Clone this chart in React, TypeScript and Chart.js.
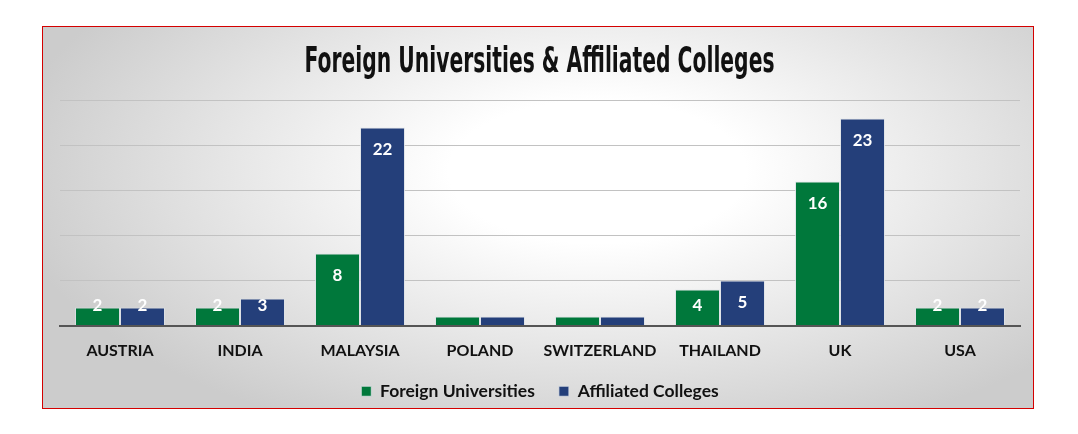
import React, { useEffect, useRef } from "react";
import { Chart, registerables } from "chart.js";

Chart.register(...registerables);

const categories = ["AUSTRIA", "INDIA", "MALAYSIA", "POLAND", "SWITZERLAND", "THAILAND", "UK", "USA"];
const foreignUniversities = [2, 2, 8, 1, 1, 4, 16, 2];
const affiliatedColleges = [2, 3, 22, 1, 1, 5, 23, 2];
const seriesNames = ["Foreign Universities", "Affiliated Colleges"];
const chartTitle = "Foreign Universities & Affiliated Colleges";

const GREEN = "#00783B";
const BLUE = "#243F7A";

const valueLabels = {
  id: "valueLabels",
  afterDatasetsDraw(chart: any) {
    const ctx = chart.ctx;
    ctx.save();
    ctx.fillStyle = "#ffffff";
    ctx.font = "bold 17px Lato, 'Open Sans', sans-serif";
    ctx.textAlign = "center";
    ctx.textBaseline = "middle";
    chart.data.datasets.forEach((ds: any, di: number) => {
      const meta = chart.getDatasetMeta(di);
      meta.data.forEach((bar: any, i: number) => {
        const v = ds.data[i];
        if (v < 2) return;
        const y = Math.min(bar.y + 22, bar.base - 19);
        ctx.fillText(String(v), bar.x, y);
      });
    });
    ctx.restore();
  },
};

// Condensed title: real text, squeezed horizontally to mimic a narrow display face
const condensedTitle = {
  id: "condensedTitle",
  afterDraw(chart: any) {
    const ctx = chart.ctx;
    ctx.save();
    ctx.font = "bold 35px 'DejaVu Sans', sans-serif";
    ctx.fillStyle = "#111111";
    ctx.textAlign = "center";
    ctx.textBaseline = "alphabetic";
    const w = ctx.measureText(chartTitle).width;
    const sx = 470 / w;
    ctx.translate(chart.width / 2 + 2, 44.5);
    ctx.scale(sx, 1);
    ctx.fillText(chartTitle, 0, 0);
    ctx.restore();
  },
};

export default function App() {
  const ref = useRef<HTMLCanvasElement>(null);
  useEffect(() => {
    if (!ref.current) return;
    const chart = new Chart(ref.current, {
      type: "bar",
      data: {
        labels: categories,
        datasets: [
          {
            label: seriesNames[0],
            data: foreignUniversities,
            backgroundColor: GREEN,
            borderColor: "rgba(220,225,230,0.8)",
            borderWidth: 1,
            categoryPercentage: 0.75,
            barPercentage: 1,
          },
          {
            label: seriesNames[1],
            data: affiliatedColleges,
            backgroundColor: BLUE,
            borderColor: "rgba(220,225,230,0.8)",
            borderWidth: 1,
            categoryPercentage: 0.75,
            barPercentage: 1,
          },
        ],
      },
      options: {
        animation: false,
        responsive: true,
        maintainAspectRatio: false,
        layout: { padding: { left: 17, right: 12, top: 73.5, bottom: 17 } },
        plugins: {
          title: { display: false },
          legend: {
            position: "bottom",
            labels: {
              boxWidth: 10,
              boxHeight: 10,
              padding: 24,
              color: "#111111",
              font: { family: "Lato, 'Open Sans', sans-serif", size: 17.5, weight: "bold" },
            },
          },
          tooltip: { enabled: false },
        },
        scales: {
          x: {
            grid: { display: false, drawTicks: false },
            border: { display: true, color: "#555555", width: 2 },
            ticks: {
              color: "#111111",
              padding: 17,
              font: { family: "Lato, 'Open Sans', sans-serif", size: 16, weight: "bold", lineHeight: 1 },
            },
            afterFit: (scale: any) => {
              scale.height = 33;
            },
          },
          y: {
            min: 0,
            max: 25,
            ticks: { display: false, stepSize: 5 },
            grid: { color: "#c2c2c2", drawTicks: false, lineWidth: 1 },
            border: { display: false },
          },
        },
      },
      plugins: [valueLabels, condensedTitle],
    });
    return () => chart.destroy();
  }, []);

  return (
    <div style={{ position: "relative", width: 1062, height: 418 }}>
      <div
        style={{
          position: "absolute",
          left: 34,
          top: 18,
          width: 992,
          height: 383,
          boxSizing: "border-box",
          border: "1.5px solid #d40000",
          overflow: "hidden",
          background: "radial-gradient(ellipse 60% 75% at 56% 38%, #ffffff 25%, #e4e4e4 65%, #cccccc 100%)",
        }}
      >
        <div style={{ position: "absolute", left: 0, top: 0, width: 989, height: 400 }}>
          <canvas ref={ref} />
        </div>
      </div>
    </div>
  );
}
